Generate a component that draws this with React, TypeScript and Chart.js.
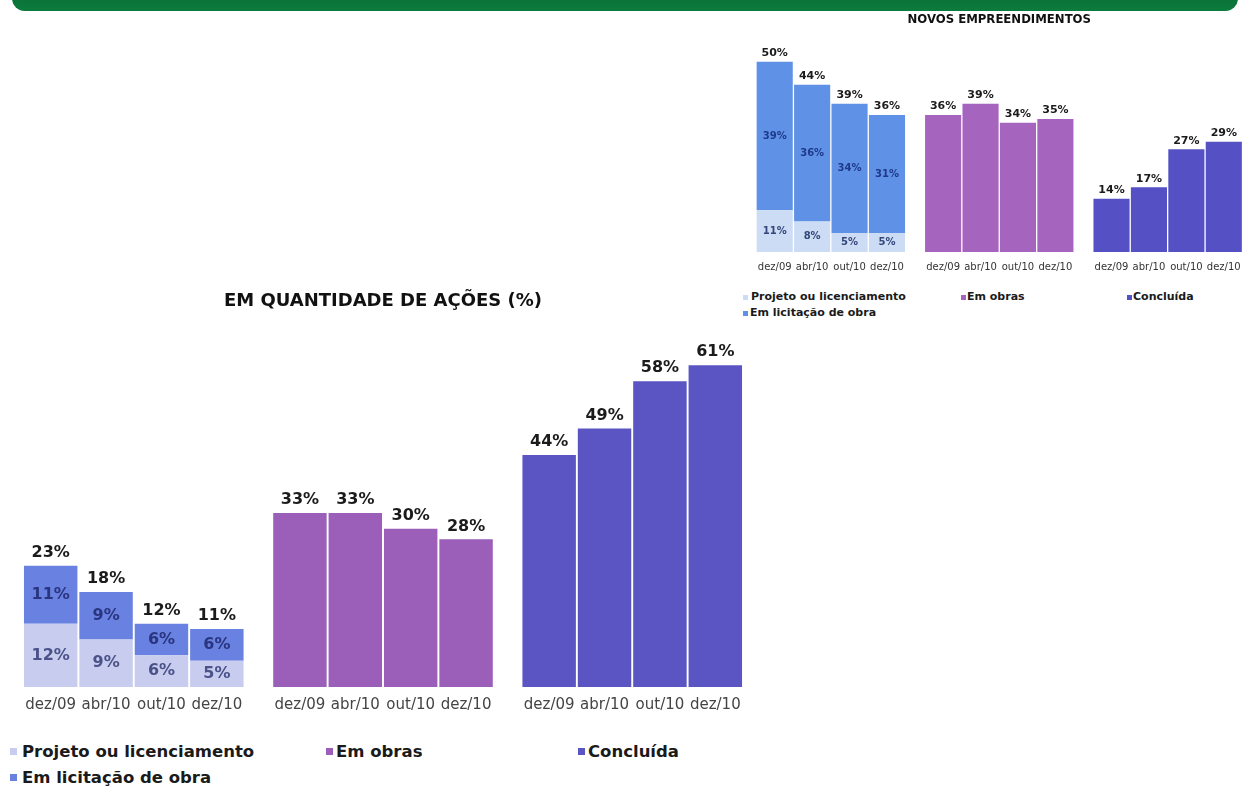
import React, { useEffect, useRef } from "react";
import { Chart, registerables } from "chart.js";

Chart.register(...registerables);

// ---------- data ----------
const dateLabels = ["dez/09", "abr/10", "out/10", "dez/10"];
const seriesNames = ["Projeto ou licenciamento", "Em licitação de obra", "Em obras", "Concluída"];

const acoesTitle = "EM QUANTIDADE DE AÇÕES (%)";
const acoesProjeto = [12, 9, 6, 5];
const acoesLicitacao = [11, 9, 6, 6];
const acoesObras = [33, 33, 30, 28];
const acoesConcluida = [44, 49, 58, 61];

const novosTitle = "NOVOS EMPREENDIMENTOS";
const novosProjeto = [11, 8, 5, 5];
const novosLicitacao = [39, 36, 34, 31];
const novosObras = [36, 39, 34, 35];
const novosConcluida = [14, 17, 27, 29];

// ---------- layout ----------
const BLOCK_START = [0, 4.5, 9];
const FONT = "'DejaVu Sans', 'Liberation Sans', sans-serif";

const valueLabelsPlugin = {
  id: "valueLabels",
  afterDatasetsDraw(chart: any, _args: any, opts: any) {
    const ctx = chart.ctx;
    const totals = new Map<number, { sum: number; top: number; x: number }>();
    chart.data.datasets.forEach((ds: any, di: number) => {
      const meta = chart.getDatasetMeta(di);
      meta.data.forEach((el: any, i: number) => {
        const raw = ds.data[i];
        if (!raw || raw.y == null) return;
        const t = totals.get(raw.x) || { sum: 0, top: Infinity, x: el.x };
        t.sum += raw.y;
        t.top = Math.min(t.top, el.y);
        totals.set(raw.x, t);
        if (opts.inside[di]) {
          ctx.save();
          ctx.font = `bold ${opts.insideSize}px ${FONT}`;
          ctx.fillStyle = opts.insideColors[di];
          ctx.textAlign = "center";
          ctx.textBaseline = "middle";
          ctx.fillText(raw.y + "%", el.x, (el.y + el.base) / 2);
          ctx.restore();
        }
      });
    });
    totals.forEach((t) => {
      ctx.save();
      ctx.font = `bold ${opts.totalSize}px ${FONT}`;
      ctx.fillStyle = "#1b1b1b";
      ctx.textAlign = "center";
      ctx.textBaseline = "bottom";
      ctx.fillText(t.sum + "%", t.x, t.top - opts.gap);
      ctx.restore();
    });
  },
};

type PanelProps = {
  title: string;
  projeto: number[];
  licitacao: number[];
  obras: number[];
  concluida: number[];
  colors: string[];
  insideColors: string[];
  left: number;
  top: number;
  width: number;
  height: number;
  padLeft: number;
  padRight: number;
  yMax: number;
  titleSize: number;
  titleFamily: string;
  titlePadTop: number;
  tickSize: number;
  tickPad: number;
  tickColor: string;
  totalSize: number;
  insideSize: number;
  gap: number;
};

function BarPanel(p: PanelProps) {
  const ref = useRef<HTMLCanvasElement>(null);
  useEffect(() => {
    const toPoints = (vals: number[], block: number) =>
      vals.map((v, i) => ({ x: BLOCK_START[block] + i, y: v }));
    const series = [
      toPoints(p.projeto, 0),
      toPoints(p.licitacao, 0),
      toPoints(p.obras, 1),
      toPoints(p.concluida, 2),
    ];
    const datasets = series.map((data, i) => ({
      label: seriesNames[i],
      data,
      backgroundColor: p.colors[i],
      borderWidth: 0,
      barPercentage: 0.965,
      categoryPercentage: 1,
    }));
    const tickValues = BLOCK_START.flatMap((s) => dateLabels.map((_, i) => s + i));
    const chart = new Chart(ref.current as HTMLCanvasElement, {
      type: "bar",
      data: { datasets } as any,
      options: {
        animation: false,
        responsive: false,
        devicePixelRatio: 1,
        layout: { padding: { left: p.padLeft, right: p.padRight, top: 0, bottom: 0 } },
        scales: {
          x: {
            type: "linear",
            stacked: true,
            min: -0.5,
            max: 12.5,
            offset: false,
            grid: { display: false, drawTicks: false },
            border: { display: false },
            afterBuildTicks: (s: any) => {
              s.ticks = tickValues.map((v) => ({ value: v }));
            },
            ticks: {
              autoSkip: false,
              maxRotation: 0,
              minRotation: 0,
              padding: p.tickPad,
              color: p.tickColor,
              font: { family: FONT, size: p.tickSize },
              callback: (_v: any, i: number) => dateLabels[i % dateLabels.length],
            },
          },
          y: { display: false, stacked: true, min: 0, max: p.yMax },
        },
        plugins: {
          legend: { display: false },
          tooltip: { enabled: false },
          title: {
            display: true,
            text: p.title,
            fullSize: false,
            color: "#111",
            font: { family: p.titleFamily, size: p.titleSize, weight: "bold" },
            padding: { top: p.titlePadTop, bottom: 0 },
          },
          valueLabels: {
            inside: [true, true, false, false],
            insideColors: p.insideColors,
            insideSize: p.insideSize,
            totalSize: p.totalSize,
            gap: p.gap,
          },
        } as any,
      } as any,
      plugins: [valueLabelsPlugin],
    });
    return () => chart.destroy();
  }, []);
  return (
    <canvas
      ref={ref}
      width={p.width}
      height={p.height}
      style={{ position: "absolute", left: p.left, top: p.top, width: p.width, height: p.height, display: "block" }}
    />
  );
}

type LegendEntry = { series: number; marker: number; text: number; y: number };

function HtmlLegend(props: { entries: LegendEntry[]; colors: string[]; size: number; marker: number }) {
  const lh = Math.round(props.size * 1.3);
  return (
    <>
      {props.entries.map((e, k) => (
        <React.Fragment key={k}>
          <div
            style={{
              position: "absolute",
              left: e.marker,
              top: e.y - props.marker / 2,
              width: props.marker,
              height: props.marker,
              background: props.colors[e.series],
            }}
          />
          <div
            style={{
              position: "absolute",
              left: e.text,
              top: e.y - lh / 2,
              lineHeight: lh + "px",
              fontFamily: FONT,
              fontWeight: "bold",
              fontSize: props.size,
              color: "#1a1a1a",
              whiteSpace: "nowrap",
            }}
          >
            {seriesNames[e.series]}
          </div>
        </React.Fragment>
      ))}
    </>
  );
}

const novosColors = ["#cddcf5", "#5f91e6", "#a564be", "#5550c3"];
const acoesColors = ["#c8cdf0", "#6982e1", "#9b5fb9", "#5a55c3"];

export default function App() {
  return (
    <div style={{ position: "absolute", left: 0, top: 0, width: 1250, height: 794, overflow: "hidden", background: "#fff" }}>
      <div
        style={{
          position: "absolute",
          left: 12,
          top: -14,
          width: 1226,
          height: 25,
          borderRadius: 15,
          background: "linear-gradient(180deg, #0b6a33 0%, #0b7c3d 100%)",
        }}
      />
      <BarPanel
        title={novosTitle}
        projeto={novosProjeto}
        licitacao={novosLicitacao}
        obras={novosObras}
        concluida={novosConcluida}
        colors={novosColors}
        insideColors={["#33477a", "#1f3a8a"]}
        left={740}
        top={4}
        width={510}
        height={278}
        padLeft={16}
        padRight={7}
        yMax={59}
        titleSize={13}
        titleFamily="'DejaVu Sans Condensed', 'DejaVu Sans', sans-serif"
        titlePadTop={8}
        tickSize={10}
        tickPad={9}
        tickColor="#333"
        totalSize={11}
        insideSize={10}
        gap={3}
      />
      <HtmlLegend
        colors={novosColors}
        size={11}
        marker={5}
        entries={[
          { series: 0, marker: 743, text: 751, y: 297 },
          { series: 2, marker: 961, text: 967, y: 297 },
          { series: 3, marker: 1127, text: 1133, y: 297 },
          { series: 1, marker: 743, text: 750, y: 313 },
        ]}
      />
      <BarPanel
        title={acoesTitle}
        projeto={acoesProjeto}
        licitacao={acoesLicitacao}
        obras={acoesObras}
        concluida={acoesConcluida}
        colors={acoesColors}
        insideColors={["#4a5288", "#2a3580"]}
        left={0}
        top={284}
        width={760}
        height={439}
        padLeft={23}
        padRight={17}
        yMax={71}
        titleSize={18}
        titleFamily={FONT}
        titlePadTop={7}
        tickSize={15}
        tickPad={9}
        tickColor="#444"
        totalSize={16}
        insideSize={16}
        gap={5}
      />
      <HtmlLegend
        colors={acoesColors}
        size={16.5}
        marker={7}
        entries={[
          { series: 0, marker: 10, text: 22, y: 751 },
          { series: 2, marker: 326, text: 336, y: 751 },
          { series: 3, marker: 578, text: 588, y: 751 },
          { series: 1, marker: 10, text: 22, y: 777 },
        ]}
      />
    </div>
  );
}
